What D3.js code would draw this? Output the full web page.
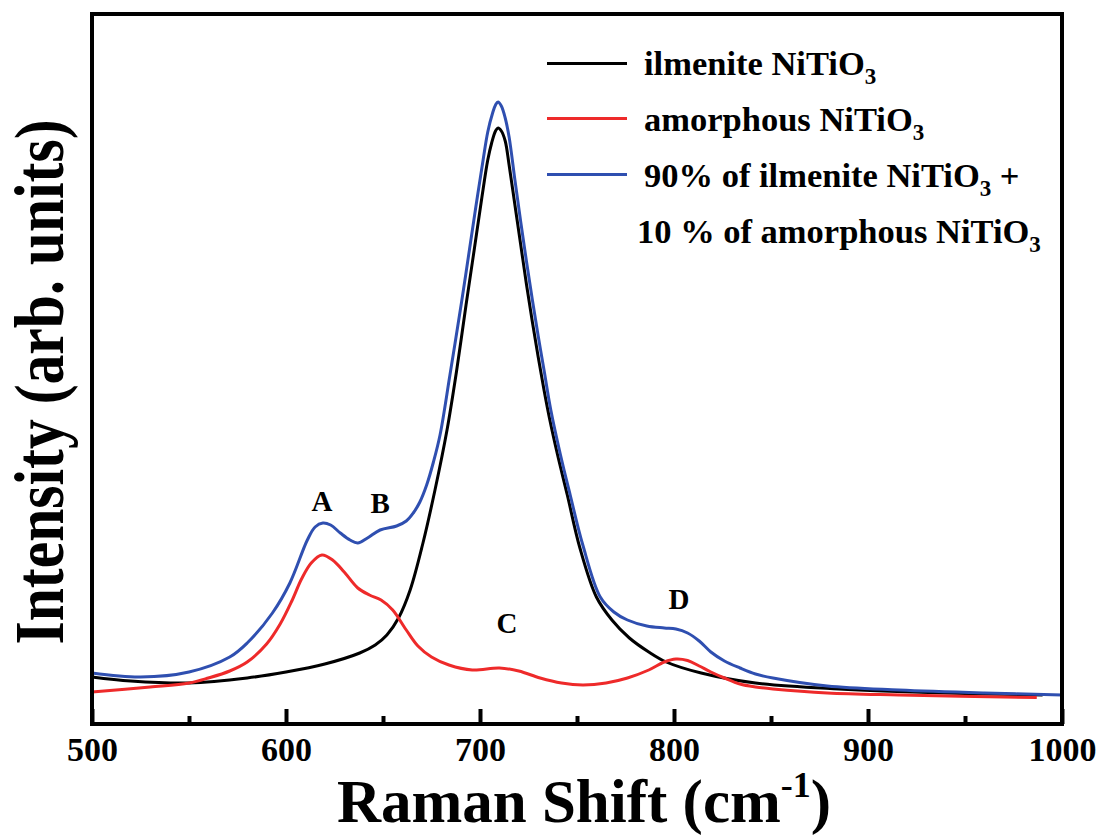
<!DOCTYPE html>
<html>
<head>
<meta charset="utf-8">
<script src="https://cdn.jsdelivr.net/npm/d3@7"></script>
<style>
  html, body { margin: 0; padding: 0; background: #fff; }
  svg { display: block; }
  text { font-family: "Liberation Serif", "Times New Roman", serif; font-weight: bold; fill: #000; }
</style>
</head>
<body>
<svg id="chart" width="1102" height="836"></svg>
<script>
// ---- data (Raman shift in cm^-1, intensity in arb. units) ----
const ilmenite = [
  [500,47],[520,43],[550,41],[580,46],[600,52],[620,60],[638,71],[646,79],[652,89],
  [658,106],[664,134],[670.6,181],[676.8,234],[683,294],[688,354],[692.8,419],[697,474],[701,527],
  [704,564],[706,581],[708,593],[709.3,596],[711,593],[713,583],[715,559],[718,519],[721,479],
  [724,439],[727,402],[730,367],[733,334],[736,304],[740,269],[745,229],[751.5,176],[760,127],
  [768,104],[777,86],[787,72],[796,62],[814,51],[842,41],[885,35],[940,31],[990,29]
];
const amorphous = [
  [500,32],[530,37],[550,41],[560,46],[571,53],[580,62],[590,80],[597,100],[603,123],[608,145],
  [613,161],[618.5,169],[624,164],[630,152],[637,136],[643,129],[649,124],[655,114],[662,94],[668,78],
  [675,67],[684,59],[696,54],[710,56],[720,53],[731,46],[742,41],[753,39],[765,41],[776,46],
  [787,54],[795,62],[801,65],[807,63.5],[813,58],[819,52],[826,46],[834,40],[842,37],[851,35],
  [879,31],[916,29],[987,26.5]
];
const mixture = [
  [500,51],[525,47],[550,52],[571,67],[580,81],[593,111],[602,141],[611,184],[615,197],[619,201],
  [623,199],[628,191],[633,184],[637,181],[642,186],[648.5,194],[657,198],[662,203],[665.6,211],[669,222],
  [672.5,239],[676,262],[679.4,289],[684.5,349],[690.5,422],[694,467],[698,519],[701.6,564],[704,592],
  [706.5,611],[708,619],[709.3,622],[711,618],[713,606],[715,587],[718,544],[721,502],[724,462],
  [727,424],[730,388],[733,354],[736.5,314],[741.5,269],[746.5,229],[753,179],[762,127],[769,112],
  [776,104],[786,98],[795,96],[801,95],[807,91],[813,83],[819,72],[826,63],[834,56],[842,50],
  [851,46],[879,38],[916,34],[960,31],[1000,29]
];
const peakLabels = ["A", "B", "C", "D"];
const peakPositions = [618.6, 648.5, 713.9, 802.6];
const peakLabelHeights = [213, 211, 91, 115];
const xTickValues = [500, 600, 700, 800, 900, 1000];
const xMinorTicks = [550, 650, 750, 850, 950];
const seriesNames = ["ilmenite NiTiO", "amorphous NiTiO", "90% of ilmenite NiTiO"];
const seriesColors = ["#000000", "#ee2a2a", "#2f4fb0"];

// ---- layout ----
const svg = d3.select("#chart");
const mLeft = 92, mRight = 1062, mTop = 14, mBottom = 724;
const x = d3.scaleLinear().domain([500, 1000]).range([mLeft, mRight]);
const y = d3.scaleLinear().domain([0, 710]).range([mBottom, mTop]);

const line = d3.line()
  .x(d => x(d[0]))
  .y(d => y(d[1]))
  .curve(d3.curveCatmullRom.alpha(0.5));

// curves
[ilmenite, amorphous, mixture].forEach((s, i) => {
  svg.append("path")
    .datum(s)
    .attr("d", line)
    .attr("fill", "none")
    .attr("stroke", seriesColors[i])
    .attr("stroke-width", 3)
    .attr("stroke-linejoin", "round");
});

// frame
svg.append("rect")
  .attr("x", mLeft).attr("y", mTop)
  .attr("width", mRight - mLeft).attr("height", mBottom - mTop)
  .attr("fill", "none").attr("stroke", "#000").attr("stroke-width", 4);

// bottom axis: inward ticks
const axis = d3.axisBottom(x).tickValues(xTickValues).tickSize(-15).tickPadding(30).tickFormat(d3.format("d"));
const gx = svg.append("g").attr("transform", `translate(0,${mBottom})`).call(axis);
gx.select(".domain").remove();
gx.selectAll(".tick line").attr("stroke", "#000").attr("stroke-width", 4);
gx.selectAll(".tick text")
  .attr("font-size", 34)
  .attr("font-family", "Liberation Serif, serif")
  .attr("font-weight", "bold")
  .attr("dy", "0.2em")
  .attr("fill", "#000");

const minor = d3.axisBottom(x).tickValues(xMinorTicks).tickSize(-8).tickFormat("");
const gm = svg.append("g").attr("transform", `translate(0,${mBottom})`).call(minor);
gm.select(".domain").remove();
gm.selectAll(".tick line").attr("stroke", "#000").attr("stroke-width", 4);

// axis titles
const xt = svg.append("text")
  .attr("x", 584).attr("y", 822)
  .attr("text-anchor", "middle")
  .attr("font-size", 61);
xt.append("tspan").text("Raman Shift (cm");
xt.append("tspan").attr("font-size", 36).attr("dy", -25).text("-1");
xt.append("tspan").attr("dy", 25).text(")");

svg.append("text")
  .attr("transform", "translate(63,382) rotate(-90)")
  .attr("text-anchor", "middle")
  .attr("font-size", 70)
  .attr("textLength", 525)
  .attr("lengthAdjust", "spacingAndGlyphs")
  .text("Intensity (arb. units)");

// peak labels
peakLabels.forEach((lab, i) => {
  svg.append("text")
    .attr("x", x(peakPositions[i]))
    .attr("y", y(peakLabelHeights[i]))
    .attr("text-anchor", "middle")
    .attr("font-size", 29)
    .text(lab);
});

// legend
const legY = [63.5, 118.5, 174.5];
const legTextBase = [75, 131, 187];
seriesNames.forEach((name, i) => {
  svg.append("line")
    .attr("x1", 547).attr("x2", 627)
    .attr("y1", legY[i]).attr("y2", legY[i])
    .attr("stroke", seriesColors[i]).attr("stroke-width", 3);
  const t = svg.append("text").attr("x", 644).attr("y", legTextBase[i]).attr("font-size", 34.5);
  t.append("tspan").text(name);
  t.append("tspan").attr("font-size", 23).attr("dy", 9).text("3");
  if (i === 2) t.append("tspan").attr("dy", -9).text(" +");
});
const t4 = svg.append("text").attr("x", 637).attr("y", 243).attr("font-size", 34.5);
t4.append("tspan").text("10 % of amorphous NiTiO");
t4.append("tspan").attr("font-size", 23).attr("dy", 9).text("3");
</script>
</body>
</html>
